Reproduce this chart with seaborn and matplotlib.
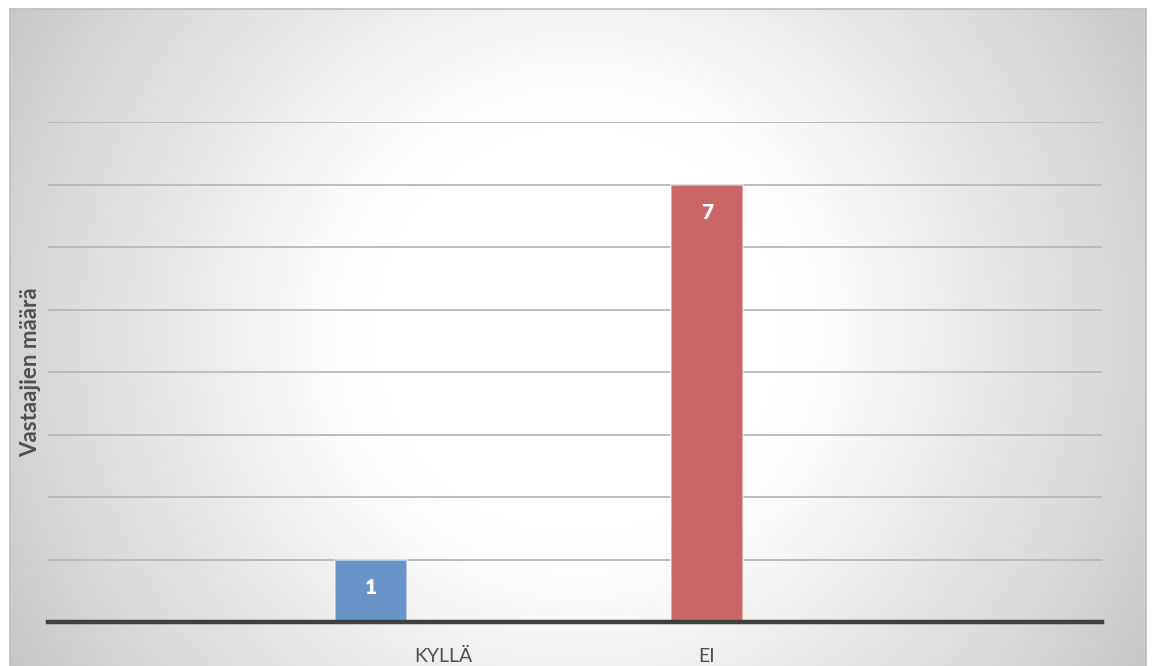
import numpy as np
import pandas as pd
import matplotlib
matplotlib.use("Agg")
import matplotlib.pyplot as plt
import seaborn as sns

# Category axis: empty slots on both sides, answers in the middle
categories = ["", "KYLLÄ", "EI", " "]
series = ["Sarja 1", "Sarja 2", "Sarja 3"]
series_colors = ["#6a94c7", "#c86765", "#9bbb59"]

# Answer counts
bar_category = ["KYLLÄ", "EI"]
bar_series = ["Sarja 1", "Sarja 2"]
bar_values = [1, 7]

y_max = 8
y_ticks = list(range(1, 9))
y_label = "Vastaajien määrä"

sns.set_theme(style="white")
plt.rcParams["font.family"] = ["Lato", "DejaVu Sans"]

W, H, DPI = 1152, 666, 100
fig = plt.figure(figsize=(W / DPI, H / DPI), dpi=DPI)
fig.patch.set_facecolor("white")

# Chart area with a radial white-to-grey fill
fx0, fx1, fy0, fy1 = 10, 1146, 9, 666
bg = fig.add_axes([fx0 / W, 1 - fy1 / H, (fx1 - fx0) / W, (fy1 - fy0) / H], zorder=0)
X, Y = np.meshgrid(np.arange(fx0, fx1), np.arange(fy0, fy1))
dist = np.hypot(X - 578, Y - 330)
shade = np.interp(dist,
                  [0, 200, 260, 320, 450, 570, 700],
                  [255, 255, 252, 243, 227, 212, 194])
img = np.dstack([shade, shade, shade]).astype(np.uint8)
bg.imshow(img, aspect="auto", interpolation="bilinear")
bg.set_xticks([])
bg.set_yticks([])
for side in ["left", "right", "top"]:
    bg.spines[side].set_color("#bdbdbd")
    bg.spines[side].set_linewidth(1.2)
bg.spines["bottom"].set_visible(False)

# Plot axes
ax_l, ax_r, ax_b, ax_t = 48, 1102, 622, 122
ax = fig.add_axes([ax_l / W, 1 - ax_b / H, (ax_r - ax_l) / W, (ax_b - ax_t) / H], zorder=1)
ax.patch.set_alpha(0)

df = pd.DataFrame({"kategoria": bar_category, "sarja": bar_series, "maara": bar_values})
sns.barplot(
    data=df, x="kategoria", y="maara", hue="sarja",
    order=categories, hue_order=series, palette=series_colors,
    saturation=1, width=0.82, gap=0, dodge=True, legend=False, ax=ax,
    edgecolor=(1, 1, 1, 0.45), linewidth=1.5, zorder=3,
)

ax.set_xlim(-0.5, len(categories) - 0.5)
ax.set_ylim(0, y_max)
ax.set_yticks(y_ticks)
ax.set_yticklabels([])
ax.tick_params(axis="y", length=0)
ax.grid(axis="y", color="#b8b8b8", linewidth=1.3, zorder=1)
ax.grid(axis="x", visible=False)
ax.set_axisbelow(True)

for side in ["left", "right", "top"]:
    ax.spines[side].set_visible(False)
ax.spines["bottom"].set_color("#404040")
ax.spines["bottom"].set_linewidth(3.2)
ax.spines["bottom"].set_zorder(4)

ax.set_xlabel("")
ax.tick_params(axis="x", length=0, pad=18.5, labelsize=14, labelcolor="#505050")
ax.set_ylabel(y_label, fontsize=16, fontweight="bold", color="#505050")
ax.yaxis.set_label_coords(-7 / (ax_r - ax_l), 0.5)

# Value labels inside the bar tops
for patch in ax.patches:
    h = patch.get_height()
    if np.isfinite(h) and h > 0:
        ax.annotate(
            f"{h:.0f}", (patch.get_x() + patch.get_width() / 2, h),
            xytext=(0, -20.5), textcoords="offset points",
            ha="center", va="center", color="white",
            fontsize=15, fontweight="heavy", zorder=5,
        )

fig.savefig("out.png", dpi=DPI)
